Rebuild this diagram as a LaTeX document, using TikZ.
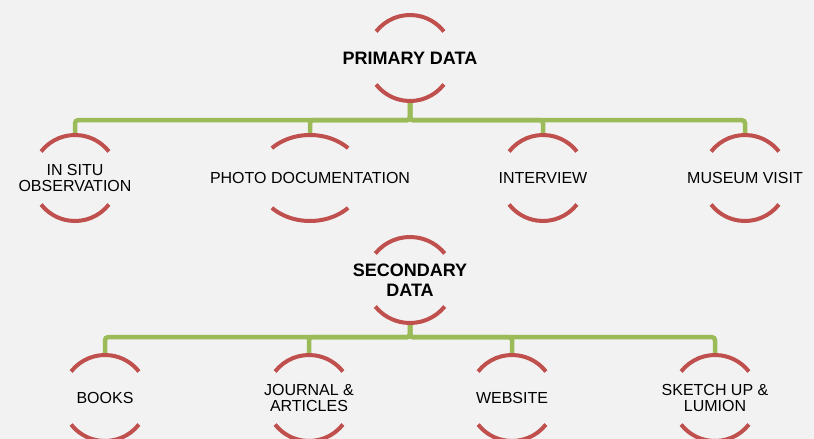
\documentclass[tikz,border=0pt]{standalone}
\usepackage{fontspec}
\setmainfont{Liberation Sans}
\usetikzlibrary{calc}

\begin{document}
\begin{tikzpicture}[x=1pt,y=-1pt,
    dato/.style={font=\fontsize{16}{16.5}\selectfont,align=center,inner sep=0pt,minimum height=86pt},
    rama/.style={font=\bfseries\fontsize{18}{20}\selectfont,align=center,inner sep=0pt,minimum height=86pt},
    arco/.style={arccolor,line width=4pt},
    enlace/.style={linkcolor,line width=4.5pt,rounded corners=3pt}]
    % Colores
    \definecolor{fondo}{HTML}{F2F2F2}
    \definecolor{arccolor}{HTML}{C0504D}
    \definecolor{linkcolor}{HTML}{9BBB59}

    % Fondo
    \fill[fondo] (0,0) rectangle (814,439);
    \useasboundingbox (0,0) rectangle (814,439);

    % Datos primarios
    \node[rama] (primary) at (410,58) {PRIMARY DATA};
    \node[dato] (insitu) at (75,178) {IN SITU\\OBSERVATION};
    \node[dato] (photo) at (310,178) {PHOTO DOCUMENTATION};
    \node[dato] (interview) at (543,178) {INTERVIEW};
    \node[dato] (museum) at (745,178) {MUSEUM VISIT};

    % Datos secundarios
    \node[rama] (secondary) at (410,280) {SECONDARY\\DATA};
    \node[dato] (books) at (105,398) {BOOKS};
    \node[dato] (journal) at (309,398) {JOURNAL \&\\ARTICLES};
    \node[dato] (website) at (512,398) {WEBSITE};
    \node[dato] (sketchup) at (715,398) {SKETCH UP \&\\LUMION};

    % Enlaces
    \foreach \hijo in {insitu,photo,interview,museum}
    {
        \draw[enlace] (primary.south) -- ++(0,19) -| (\hijo.north);
    }
    \foreach \hijo in {books,journal,website,sketchup}
    {
        \draw[enlace] (secondary.south) -- ++(0,14) -| (\hijo.north);
    }

    % Arcos de cada nodo
    \foreach \n/\rx/\a in {primary/43/38,insitu/43/38,photo/53/44,interview/43/38,museum/43/38,
                           secondary/44/38,books/43/38,journal/43/38,website/43/38,sketchup/43/38}
    {
        \draw[arco] (\n.center) ++({\rx*cos(\a)},{43*sin(\a)}) arc[x radius=\rx,y radius=43,start angle=\a,end angle=180-\a];
        \draw[arco] (\n.center) ++({\rx*cos(180+\a)},{43*sin(180+\a)}) arc[x radius=\rx,y radius=43,start angle=180+\a,end angle=360-\a];
    }

\end{tikzpicture}
\end{document}
